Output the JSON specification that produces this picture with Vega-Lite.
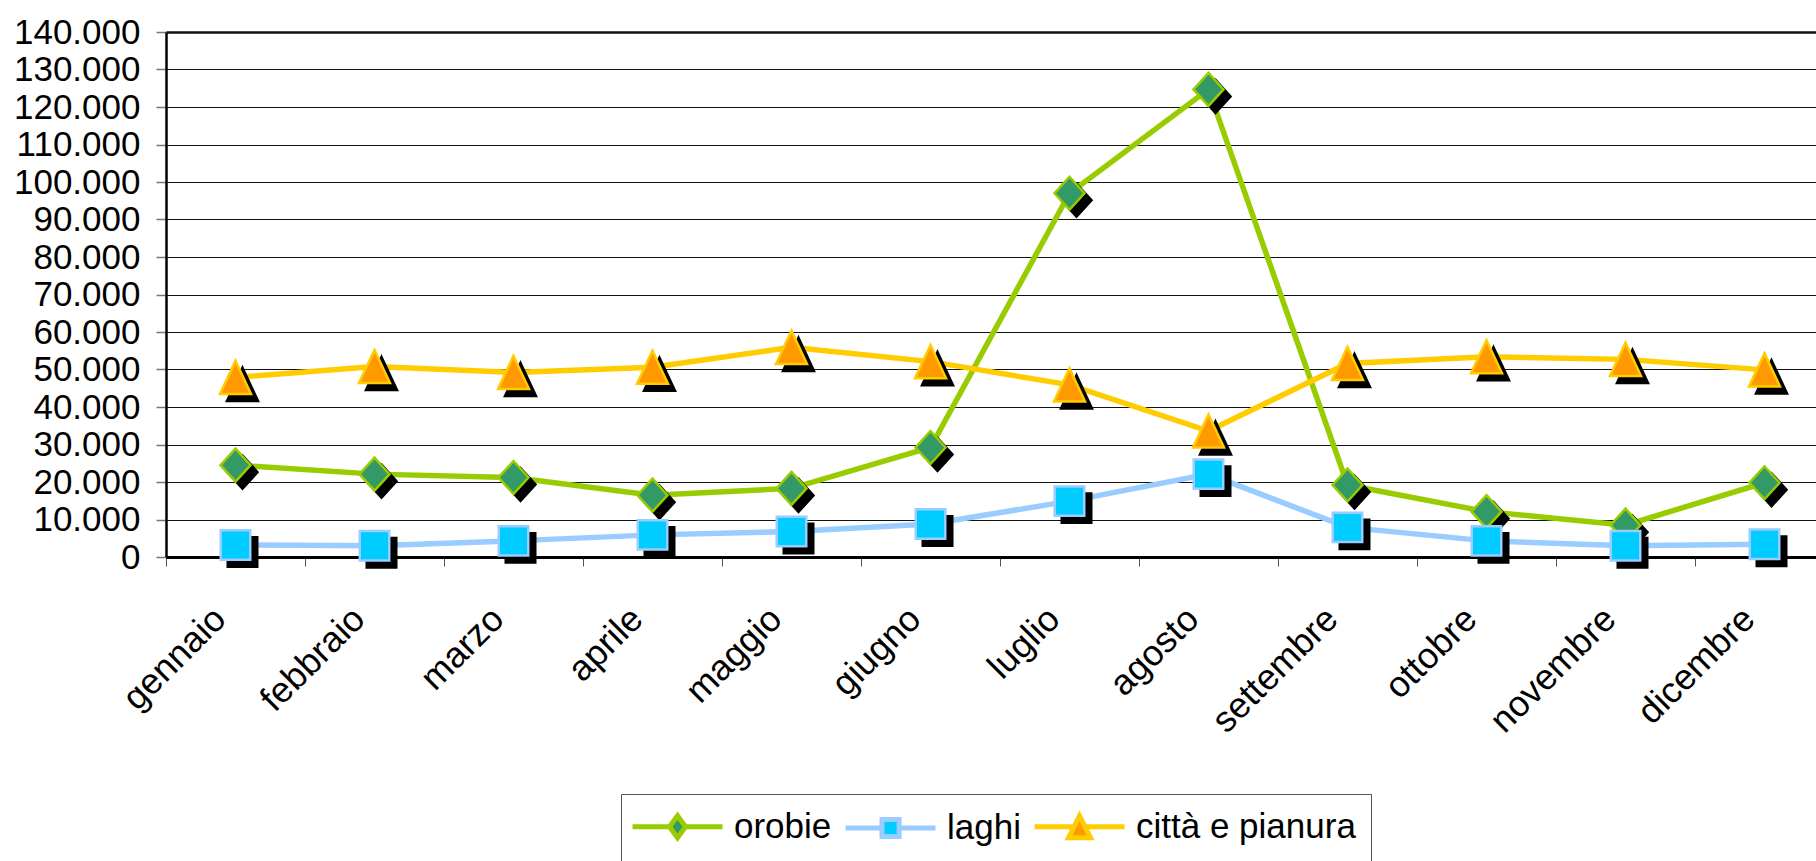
{
  "$schema": "https://vega.github.io/schema/vega-lite/v6.json",
  "width": 1650,
  "height": 525,
  "autosize": {"type": "none"},
  "padding": {"left": 166, "top": 32, "right": 0, "bottom": 304},
  "background": "#ffffff",
  "config": {
    "font": "Liberation Sans",
    "view": {"stroke": null},
    "locale": {"number": {"decimal": ",", "thousands": ".", "grouping": [3], "currency": ["€", ""]}},
    "legend": {
      "orient": "none",
      "legendX": 455,
      "legendY": 762,
      "direction": "horizontal",
      "columns": 3,
      "symbolSize": 324,
      "symbolStrokeWidth": 5,
      "symbolOpacity": 1,
      "labelFontSize": 35,
      "labelFont": "Liberation Sans",
      "labelColor": "#000000",
      "labelOffset": 63,
      "labelLimit": 400,
      "columnPadding": 3,
      "padding": 15,
      "strokeColor": "#555555",
      "fillColor": "#ffffff"
    }
  },
  "data": {
    "values": [
      {"month": "gennaio", "series": "orobie", "value": 24500},
      {"month": "febbraio", "series": "orobie", "value": 22100},
      {"month": "marzo", "series": "orobie", "value": 21200},
      {"month": "aprile", "series": "orobie", "value": 16500},
      {"month": "maggio", "series": "orobie", "value": 18300},
      {"month": "giugno", "series": "orobie", "value": 29200},
      {"month": "luglio", "series": "orobie", "value": 97000},
      {"month": "agosto", "series": "orobie", "value": 124700},
      {"month": "settembre", "series": "orobie", "value": 19200},
      {"month": "ottobre", "series": "orobie", "value": 12100},
      {"month": "novembre", "series": "orobie", "value": 8500},
      {"month": "dicembre", "series": "orobie", "value": 19800},
      {"month": "gennaio", "series": "laghi", "value": 3200},
      {"month": "febbraio", "series": "laghi", "value": 3000},
      {"month": "marzo", "series": "laghi", "value": 4300},
      {"month": "aprile", "series": "laghi", "value": 5900},
      {"month": "maggio", "series": "laghi", "value": 6800},
      {"month": "giugno", "series": "laghi", "value": 8800},
      {"month": "luglio", "series": "laghi", "value": 14900},
      {"month": "agosto", "series": "laghi", "value": 22100},
      {"month": "settembre", "series": "laghi", "value": 7900},
      {"month": "ottobre", "series": "laghi", "value": 4300},
      {"month": "novembre", "series": "laghi", "value": 3000},
      {"month": "dicembre", "series": "laghi", "value": 3400},
      {"month": "gennaio", "series": "città e pianura", "value": 47900},
      {"month": "febbraio", "series": "città e pianura", "value": 50800},
      {"month": "marzo", "series": "città e pianura", "value": 49200},
      {"month": "aprile", "series": "città e pianura", "value": 50600},
      {"month": "maggio", "series": "città e pianura", "value": 55900},
      {"month": "giugno", "series": "città e pianura", "value": 52100},
      {"month": "luglio", "series": "città e pianura", "value": 45900},
      {"month": "agosto", "series": "città e pianura", "value": 33600},
      {"month": "settembre", "series": "città e pianura", "value": 51600},
      {"month": "ottobre", "series": "città e pianura", "value": 53400},
      {"month": "novembre", "series": "città e pianura", "value": 52700},
      {"month": "dicembre", "series": "città e pianura", "value": 49900}
    ]
  },
  "encoding": {
    "x": {
      "field": "month",
      "type": "nominal",
      "sort": ["gennaio", "febbraio", "marzo", "aprile", "maggio", "giugno", "luglio", "agosto", "settembre", "ottobre", "novembre", "dicembre"],
      "scale": {"type": "band", "paddingInner": 0, "paddingOuter": 0, "range": [0, 1668]},
      "axis": {
        "title": null,
        "labelAngle": -45,
        "labelAlign": "right",
        "labelBaseline": "top",
        "labelFontSize": 36,
        "labelFont": "Liberation Sans",
        "labelColor": "#000000",
        "labelOffset": -28,
        "labelPadding": 35,
        "labelLimit": 400,
        "labelOverlap": false,
        "tickBand": "extent",
        "tickSize": 9,
        "tickColor": "#555555",
        "tickWidth": 1,
        "domainColor": "#000000",
        "domainWidth": 3,
        "grid": false
      }
    },
    "y": {
      "field": "value",
      "type": "quantitative",
      "scale": {"domain": [0, 140000], "nice": false, "zero": true},
      "axis": {
        "title": null,
        "values": [0, 10000, 20000, 30000, 40000, 50000, 60000, 70000, 80000, 90000, 100000, 110000, 120000, 130000, 140000],
        "format": ",d",
        "labelFontSize": 35,
        "labelFont": "Liberation Sans",
        "labelColor": "#000000",
        "labelPadding": 16,
        "labelOverlap": false,
        "tickSize": 10,
        "tickColor": "#777777",
        "tickWidth": 1.5,
        "domainColor": "#000000",
        "domainWidth": 2.5,
        "grid": true,
        "gridColor": "#111111",
        "gridWidth": {"condition": {"test": "datum.value === 140000", "value": 2.5}, "value": 1.2}
      }
    }
  },
  "layer": [
    {
      "transform": [{"filter": "datum.series === 'orobie'"}],
      "mark": {"type": "line", "strokeWidth": 5.5, "color": "#99CC00"}
    },
    {
      "transform": [{"filter": "datum.series === 'laghi'"}],
      "mark": {"type": "line", "strokeWidth": 5.5, "color": "#99CCFF"}
    },
    {
      "transform": [{"filter": "datum.series === 'città e pianura'"}],
      "mark": {"type": "line", "strokeWidth": 5.5, "color": "#FFCC00"}
    },
    {
      "transform": [{"filter": "datum.series === 'orobie'"}],
      "mark": {"type": "point", "shape": "M0,-1.1L1,0L0,1.1L-1,0Z", "size": 900, "filled": true, "fill": "#000000", "stroke": "#000000", "strokeWidth": 2.5, "opacity": 1, "xOffset": 7, "yOffset": 7}
    },
    {
      "transform": [{"filter": "datum.series === 'orobie'"}],
      "mark": {"type": "point", "shape": "M0,-1.1L1,0L0,1.1L-1,0Z", "size": 900, "filled": true, "fill": "#339966", "stroke": "#99CC00", "strokeWidth": 2.5, "opacity": 1}
    },
    {
      "transform": [{"filter": "datum.series === 'laghi'"}],
      "mark": {"type": "point", "shape": "square", "size": 870, "filled": true, "fill": "#000000", "stroke": "#000000", "strokeWidth": 2.5, "opacity": 1, "xOffset": 7, "yOffset": 7}
    },
    {
      "transform": [{"filter": "datum.series === 'laghi'"}],
      "mark": {"type": "point", "shape": "square", "size": 870, "filled": true, "fill": "#00CCFF", "stroke": "#99CCFF", "strokeWidth": 2.5, "opacity": 1}
    },
    {
      "transform": [{"filter": "datum.series === 'città e pianura'"}],
      "mark": {"type": "point", "shape": "M0,-1.07L1,1.07L-1,1.07Z", "size": 961, "filled": true, "fill": "#000000", "stroke": "#000000", "strokeWidth": 2.5, "opacity": 1, "xOffset": 7, "yOffset": 7}
    },
    {
      "transform": [{"filter": "datum.series === 'città e pianura'"}],
      "mark": {"type": "point", "shape": "M0,-1.07L1,1.07L-1,1.07Z", "size": 961, "filled": true, "fill": "#FF9900", "stroke": "#FFCC00", "strokeWidth": 2.5, "opacity": 1}
    },
    {
      "transform": [{"filter": "datum.value < 0"}],
      "mark": {"type": "point", "filled": true, "opacity": 1},
      "encoding": {
        "shape": {
          "field": "series",
          "type": "nominal",
          "scale": {
            "domain": ["orobie", "laghi", "città e pianura"],
            "range": [
              "M-2.33,0H1.78M3.56,0H7.67M2.67,-1.22L3.56,0L2.67,1.22L1.78,0Z",
              "M-2.33,0H1.72M3.62,0H7.67M1.72,-0.95H3.62V0.95H1.72Z",
              "M-2.33,0H2.06M3.28,0H7.67M2.67,-1.22L3.89,1.22L1.45,1.22Z"
            ]
          },
          "legend": {"title": null}
        },
        "fill": {
          "field": "series",
          "type": "nominal",
          "scale": {"domain": ["orobie", "laghi", "città e pianura"], "range": ["#339966", "#00CCFF", "#FF9900"]},
          "legend": {"title": null}
        },
        "stroke": {
          "field": "series",
          "type": "nominal",
          "scale": {"domain": ["orobie", "laghi", "città e pianura"], "range": ["#99CC00", "#99CCFF", "#FFCC00"]},
          "legend": {"title": null}
        }
      }
    }
  ]
}
